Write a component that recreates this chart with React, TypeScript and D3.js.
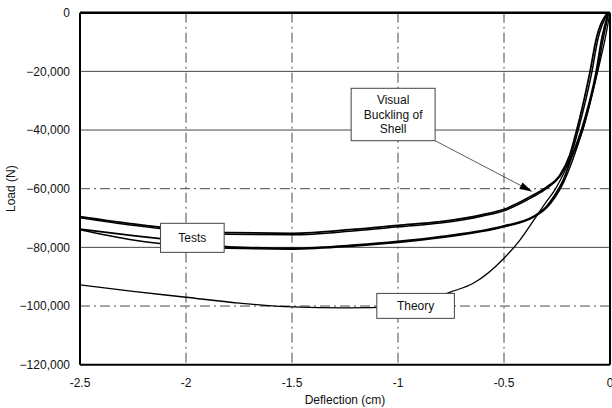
import React from "react";
import * as d3 from "d3";

// ---- data (deflection cm, load N) ----
const testA_x = [-2.5, -2.25, -2.0, -1.8, -1.5, -1.2, -1.0, -0.8, -0.6, -0.5, -0.362, -0.3, -0.236, -0.19, -0.157, -0.094, -0.066, -0.012];
const testA_y = [-69500, -72000, -74000, -75000, -75200, -73800, -72500, -71250, -68800, -67000, -62150, -59500, -55300, -48500, -40000, -20000, -9300, 0];
const testA2_x = [-2.5, -2.25, -2.0, -1.8, -1.5, -1.2, -1.0, -0.8, -0.6, -0.5, -0.362, -0.3, -0.236, -0.185, -0.15, -0.085, -0.058, -0.01];
const testA2_y = [-69900, -72500, -74500, -75500, -75700, -74300, -73000, -71700, -69300, -67500, -62700, -60000, -55800, -48800, -40000, -20000, -9300, 0];
const testB_x = [-2.5, -2.25, -2.0, -1.8, -1.5, -1.2, -1.0, -0.8, -0.5, -0.362, -0.3, -0.26, -0.22, -0.18, -0.135, -0.065, -0.04, -0.008];
const testB_y = [-73800, -76000, -78000, -79800, -80300, -79200, -78000, -76350, -72700, -69500, -66100, -62150, -57000, -49000, -40000, -20000, -9300, 0];
const testC_x = [-2.5, -2.25, -2.0, -1.8, -1.5, -1.2, -1.0, -0.8, -0.5, -0.362, -0.3, -0.26, -0.22, -0.175, -0.13, -0.06, -0.033, -0.006];
const testC_y = [-74000, -77500, -79500, -80300, -80600, -79500, -78300, -76700, -73000, -69800, -66600, -63000, -58000, -50000, -40000, -20000, -9300, 0];
const theory_x = [-2.5, -2.25, -2.0, -1.75, -1.5, -1.25, -1.0, -0.747, -0.645, -0.5, -0.425, -0.362, -0.3, -0.26, -0.2, -0.128, -0.058, -0.024, 0];
const theory_y = [-92800, -95000, -97000, -99000, -100300, -100600, -100200, -95100, -92250, -83700, -77500, -71000, -64400, -60400, -52000, -40000, -20000, -9300, 0];

const xTicks = [-2.5, -2, -1.5, -1, -0.5, 0];
const yTicks = [0, -20000, -40000, -60000, -80000, -100000, -120000];
const yDashDot = [-60000, -100000];

// annotation boxes in data units: [x0, x1, y0(top), y1(bottom)]
const testsBox = [-2.12, -1.82, -71800, -81700];
const theoryBox = [-1.10, -0.734, -95700, -104200];
const buckleBox = [-1.221, -0.825, -25770, -43640];
const buckleArrowTip = [-0.366, -61000];
const buckleLines = ["Visual", "Buckling of", "Shell"];

const W = 612, H = 408;
const M = { left: 80, right: 610, top: 12.7, bottom: 364.7 };

export default function App() {
  const x = d3.scaleLinear().domain([-2.5, 0]).range([M.left, M.right]);
  const y = d3.scaleLinear().domain([0, -120000]).range([M.top, M.bottom]);
  const line = d3
    .line<[number, number]>()
    .x((d) => x(d[0]))
    .y((d) => y(d[1]))
    .curve(d3.curveMonotoneX);
  const zip = (xs: number[], ys: number[]) => xs.map((v, i) => [v, ys[i]] as [number, number]);
  const font = "Liberation Sans, Arial, sans-serif";

  const box = (b: number[], label: string | string[], key: string) => {
    const x0 = x(b[0]), x1 = x(b[1]), y0 = y(b[2]), y1 = y(b[3]);
    const lines = Array.isArray(label) ? label : [label];
    const cx = (x0 + x1) / 2, cy = (y0 + y1) / 2;
    const lh = 14.5;
    return (
      <g key={key}>
        <rect x={x0} y={y0} width={x1 - x0} height={y1 - y0} fill="#fff" stroke="#444" strokeWidth={1} />
        {lines.map((t, i) => (
          <text key={i} x={cx} y={cy + (i - (lines.length - 1) / 2) * lh} dy="0.35em" textAnchor="middle" fontSize={12} fontFamily={font} fill="#111">
            {t}
          </text>
        ))}
      </g>
    );
  };

  const ax0 = x(buckleBox[1]), ay0 = y(buckleBox[3]);
  const ax1 = x(buckleArrowTip[0]), ay1 = y(buckleArrowTip[1]);
  const ang = Math.atan2(ay1 - ay0, ax1 - ax0);
  const hl = 13, hw = 3.5;
  const bx = ax1 - hl * Math.cos(ang), by = ay1 - hl * Math.sin(ang);
  const head = `M${ax1},${ay1} L${bx - hw * Math.sin(ang)},${by + hw * Math.cos(ang)} L${bx + hw * Math.sin(ang)},${by - hw * Math.cos(ang)} Z`;

  return (
    <svg width={W} height={H} style={{ position: "absolute", left: 0, top: 0, background: "#fff" }}>
      <rect x={0} y={0} width={W} height={H} fill="#fff" />
      {/* grid */}
      {yTicks.filter((t) => t !== 0 && t !== -120000).map((t) => (
        <line key={"gy" + t} x1={M.left} x2={M.right} y1={y(t)} y2={y(t)} stroke="#333" strokeWidth={0.9}
          strokeDasharray={yDashDot.includes(t) ? "10,4,2,4" : undefined} />
      ))}
      {xTicks.filter((t) => t !== -2.5 && t !== 0).map((t) => (
        <line key={"gx" + t} x1={x(t)} x2={x(t)} y1={M.top} y2={M.bottom} stroke="#333" strokeWidth={0.9} strokeDasharray="10,4,2,4" />
      ))}
      {/* curves */}
      <path d={line(zip(theory_x, theory_y)) || ""} fill="none" stroke="#000" strokeWidth={1.3} />
      <path d={line(zip(testC_x, testC_y)) || ""} fill="none" stroke="#000" strokeWidth={1.5} />
      <path d={line(zip(testB_x, testB_y)) || ""} fill="none" stroke="#000" strokeWidth={1.8} />
      <path d={line(zip(testA2_x, testA2_y)) || ""} fill="none" stroke="#000" strokeWidth={1.5} />
      <path d={line(zip(testA_x, testA_y)) || ""} fill="none" stroke="#000" strokeWidth={1.8} />
      {/* frame */}
      <line x1={M.left} x2={M.right} y1={M.top} y2={M.top} stroke="#000" strokeWidth={2.5} />
      <line x1={M.left} x2={M.right} y1={M.bottom} y2={M.bottom} stroke="#000" strokeWidth={2} />
      <line x1={M.left} x2={M.left} y1={M.top} y2={M.bottom} stroke="#000" strokeWidth={2} />
      <line x1={M.right} x2={M.right} y1={M.top} y2={M.bottom} stroke="#000" strokeWidth={2} />
      {/* annotations */}
      <line x1={ax0} y1={ay0} x2={bx} y2={by} stroke="#333" strokeWidth={0.8} />
      <path d={head} fill="#000" />
      {box(testsBox, "Tests", "tests")}
      {box(theoryBox, "Theory", "theory")}
      {box(buckleBox, buckleLines, "buckle")}
      {/* tick labels */}
      {yTicks.map((t) => (
        <text key={"yl" + t} x={70} y={y(t)} dy="0.35em" textAnchor="end" fontSize={12} fontFamily={font} fill="#111">
          {t === 0 ? "0" : d3.format(",")(t)}
        </text>
      ))}
      {xTicks.map((t) => (
        <text key={"xl" + t} x={x(t)} y={383} dy="0.35em" textAnchor="middle" fontSize={12} fontFamily={font} fill="#111">
          {t === 0 ? "0" : String(t)}
        </text>
      ))}
      <text x={(M.left + M.right) / 2} y={400} dy="0.35em" textAnchor="middle" fontSize={12} fontFamily={font} fill="#111">
        Deflection (cm)
      </text>
      <text transform={`translate(11,${(M.top + M.bottom) / 2}) rotate(-90)`} dy="0.35em" textAnchor="middle" fontSize={12} fontFamily={font} fill="#111">
        Load (N)
      </text>
    </svg>
  );
}
